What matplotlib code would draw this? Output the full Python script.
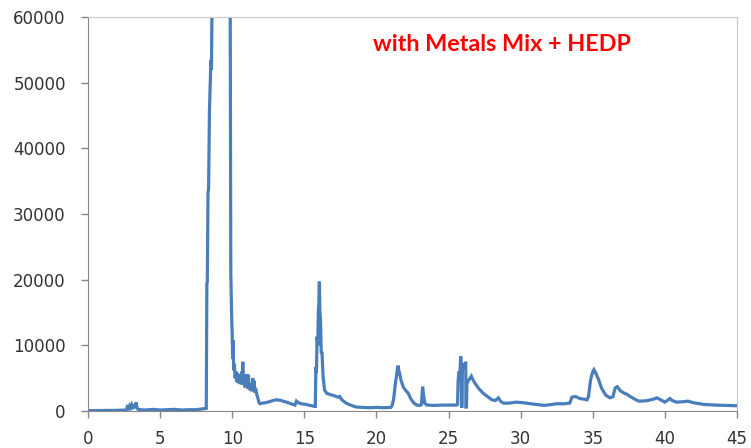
import matplotlib
matplotlib.use("Agg")
import matplotlib.pyplot as plt

# retention time (min) and detector response
time_min = [
    0.0, 1.0, 2.0, 2.65, 2.72, 2.8, 2.88, 2.95, 3.02, 3.1, 3.18, 3.26, 3.34, 3.4, 3.48,
    3.6, 4.0, 4.5, 5.0, 5.5, 6.0, 6.5, 7.0, 7.5, 8.0, 8.2, 8.24, 8.27, 8.32, 8.36,
    8.42, 8.47, 8.52, 8.56, 8.6, 8.65, 9.0, 9.5, 9.84, 9.86, 9.9, 9.95, 10.0, 10.03,
    10.06, 10.1, 10.15, 10.2, 10.25, 10.3, 10.35, 10.4, 10.45, 10.5, 10.55, 10.6,
    10.65, 10.7, 10.73, 10.77, 10.82, 10.87, 10.92, 10.97, 11.02, 11.07, 11.12, 11.17,
    11.22, 11.27, 11.32, 11.37, 11.42, 11.47, 11.52, 11.57, 11.62, 11.7, 11.78, 11.85,
    11.93, 12.1, 12.4, 12.7, 13.0, 13.3, 13.6, 13.9, 14.2, 14.35, 14.45, 14.55, 14.8,
    15.1, 15.4, 15.7, 15.76, 15.8, 15.84, 15.88, 15.93, 15.97, 16.0, 16.04, 16.08,
    16.12, 16.17, 16.22, 16.3, 16.4, 16.55, 16.8, 17.1, 17.35, 17.45, 17.6, 17.9, 18.2,
    18.6, 19.0, 19.5, 20.0, 20.5, 21.0, 21.1, 21.2, 21.3, 21.4, 21.48, 21.52, 21.56,
    21.6, 21.7, 21.85, 22.0, 22.2, 22.4, 22.6, 22.8, 23.0, 23.12, 23.2, 23.28, 23.35,
    23.5, 24.0, 24.5, 25.0, 25.55, 25.62, 25.66, 25.72, 25.78, 25.84, 25.88, 25.9,
    25.93, 25.96, 26.02, 26.08, 26.14, 26.19, 26.2, 26.24, 26.27, 26.4, 26.58, 26.7,
    26.9, 27.1, 27.4, 27.7, 28.0, 28.25, 28.45, 28.6, 28.8, 29.2, 29.7, 30.2, 30.7,
    31.1, 31.6, 32.0, 32.5, 33.0, 33.4, 33.55, 33.8, 34.1, 34.4, 34.6, 34.7, 34.85,
    35.0, 35.08, 35.2, 35.4, 35.6, 35.9, 36.2, 36.4, 36.55, 36.7, 36.9, 37.1, 37.4,
    37.6, 37.9, 38.2, 38.7, 39.2, 39.45, 39.7, 40.0, 40.35, 40.5, 40.8, 41.2, 41.6,
    42.0, 42.7, 43.5, 44.2, 45.0,
]
response = [
    50, 80, 100, 150, 600, 400, 800, 500, 900, 300, 1000, 500, 1300, 400, 250,
    200, 150, 250, 150, 200, 250, 150, 200, 200, 350, 400, 19400, 19600, 33200, 33800,
    45800, 49400, 53400, 52000, 61000, 250000, 250000, 250000, 250000, 61000, 21000, 15400, 11300, 8000,
    10800, 6200, 7200, 5000, 6000, 4500, 5800, 4300, 5600, 4100, 5200, 4400,
    6000, 4000, 7500, 4200, 5500, 3600, 5200, 3800, 5600, 3400, 5500, 3300,
    4200, 3100, 3900, 3000, 5000, 3300, 4600, 2800, 3500, 2500, 2000, 1300,
    1100, 1200, 1300, 1500, 1700, 1650, 1450, 1250, 1000, 900, 1500, 1300, 1100,
    1000, 850, 700, 700, 6700, 5800, 11300, 10000, 15400, 16000, 19700, 15000,
    14000, 8800, 9000, 5200, 3200, 2700, 2500, 2300, 2100, 2200, 1700, 1200, 900,
    600, 550, 500, 550, 500, 550, 900, 2000, 4000, 5500, 6900, 6700, 6000,
    5800, 4700, 3700, 3200, 2700, 1800, 1200, 900, 850, 1000, 3700, 2200, 1200,
    900, 850, 900, 900, 900, 1000, 4500, 6000, 5500, 8300, 7000, 700,
    700, 6500, 7300, 6300, 6800, 7500, 600, 600, 4200, 4700, 5300, 4700,
    4000, 3400, 2700, 2200, 1700, 1600, 2000, 1500, 1200, 1200, 1350, 1250, 1100,
    1000, 850, 950, 1100, 1100, 1200, 2100, 2200, 1900, 1800, 1700, 2200, 4800,
    6000, 6300, 5800, 4800, 3500, 2400, 2000, 2200, 3500, 3700, 3100, 2800, 2500,
    2200, 1800, 1500, 1550, 1800, 2000, 1700, 1350, 1900, 1600, 1350, 1400, 1500,
    1250, 1000, 900, 850, 800,
]

x_ticks = [0, 5, 10, 15, 20, 25, 30, 35, 40, 45]
y_ticks = [0, 10000, 20000, 30000, 40000, 50000, 60000]
label = "with Metals Mix + HEDP"


def plot_chromatogram():
    fig = plt.figure(figsize=(7.51, 4.48), dpi=100)
    ax = fig.add_axes([0.1172, 0.0826, 0.8642, 0.8795])

    ax.plot(time_min, response, color="#4a7ebb", linewidth=2.3, solid_joinstyle="miter")

    ax.set_xlim(0, 45)
    ax.set_ylim(0, 60000)
    ax.set_xticks(x_ticks)
    ax.set_yticks(y_ticks)
    ax.set_xticklabels([str(v) for v in x_ticks])
    ax.set_yticklabels([str(v) for v in y_ticks])

    ax.tick_params(axis="both", direction="out", length=5, width=1, color="#868686",
                   labelsize=12, labelcolor="#333333")
    ax.tick_params(axis="y", pad=11)
    ax.tick_params(axis="x", pad=9)

    for side in ("left", "bottom"):
        ax.spines[side].set_color("#868686")
    for side in ("top", "right"):
        ax.spines[side].set_color("#c8c8c8")

    ax.text(0.439, 0.929, label, transform=ax.transAxes, color="#ff0000",
            fontsize=16.8, fontweight="bold", family="Lato", ha="left", va="center")

    fig.savefig("out.png", dpi=100)


if __name__ == "__main__":
    plot_chromatogram()
